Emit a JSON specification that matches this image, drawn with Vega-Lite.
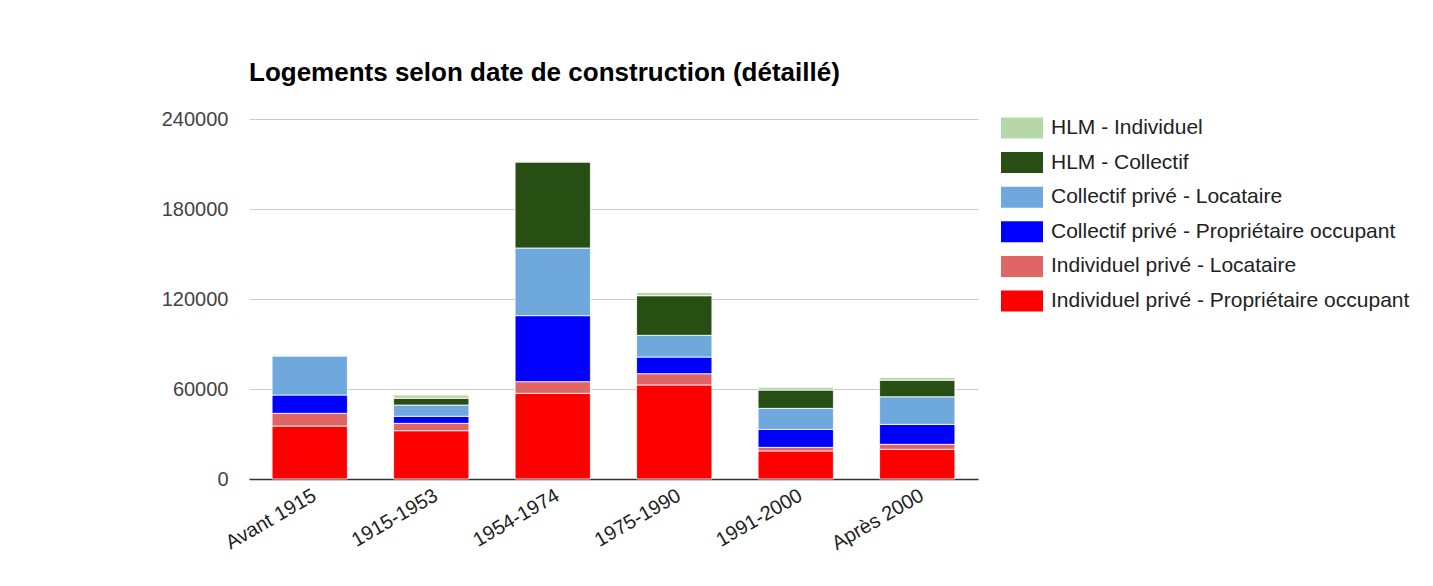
{
  "$schema": "https://vega.github.io/schema/vega-lite/v6.json",
  "width": 729,
  "height": 360,
  "padding": {"left": 161, "top": 60, "right": 0, "bottom": 0},
  "background": "#ffffff",
  "title": {
    "text": "Logements selon date de construction (détaillé)",
    "anchor": "start",
    "frame": "group",
    "font": "Liberation Sans",
    "fontSize": 26,
    "fontWeight": "bold",
    "color": "#000000",
    "offset": 21
  },
  "data": {
    "values": [
      {"periode": "Avant 1915", "type": "Individuel privé - Propriétaire occupant", "rang": 1, "valeur": 35300},
      {"periode": "Avant 1915", "type": "Individuel privé - Locataire", "rang": 2, "valeur": 8500},
      {"periode": "Avant 1915", "type": "Collectif privé - Propriétaire occupant", "rang": 3, "valeur": 12200},
      {"periode": "Avant 1915", "type": "Collectif privé - Locataire", "rang": 4, "valeur": 26000},
      {"periode": "Avant 1915", "type": "HLM - Collectif", "rang": 5, "valeur": 300},
      {"periode": "Avant 1915", "type": "HLM - Individuel", "rang": 6, "valeur": 500},
      {"periode": "1915-1953", "type": "Individuel privé - Propriétaire occupant", "rang": 1, "valeur": 32200},
      {"periode": "1915-1953", "type": "Individuel privé - Locataire", "rang": 2, "valeur": 4900},
      {"periode": "1915-1953", "type": "Collectif privé - Propriétaire occupant", "rang": 3, "valeur": 4700},
      {"periode": "1915-1953", "type": "Collectif privé - Locataire", "rang": 4, "valeur": 7500},
      {"periode": "1915-1953", "type": "HLM - Collectif", "rang": 5, "valeur": 4500},
      {"periode": "1915-1953", "type": "HLM - Individuel", "rang": 6, "valeur": 2200},
      {"periode": "1954-1974", "type": "Individuel privé - Propriétaire occupant", "rang": 1, "valeur": 57100},
      {"periode": "1954-1974", "type": "Individuel privé - Locataire", "rang": 2, "valeur": 7800},
      {"periode": "1954-1974", "type": "Collectif privé - Propriétaire occupant", "rang": 3, "valeur": 44000},
      {"periode": "1954-1974", "type": "Collectif privé - Locataire", "rang": 4, "valeur": 45100},
      {"periode": "1954-1974", "type": "HLM - Collectif", "rang": 5, "valeur": 57300},
      {"periode": "1954-1974", "type": "HLM - Individuel", "rang": 6, "valeur": 300},
      {"periode": "1975-1990", "type": "Individuel privé - Propriétaire occupant", "rang": 1, "valeur": 62700},
      {"periode": "1975-1990", "type": "Individuel privé - Locataire", "rang": 2, "valeur": 7500},
      {"periode": "1975-1990", "type": "Collectif privé - Propriétaire occupant", "rang": 3, "valeur": 11100},
      {"periode": "1975-1990", "type": "Collectif privé - Locataire", "rang": 4, "valeur": 14500},
      {"periode": "1975-1990", "type": "HLM - Collectif", "rang": 5, "valeur": 26400},
      {"periode": "1975-1990", "type": "HLM - Individuel", "rang": 6, "valeur": 2200},
      {"periode": "1991-2000", "type": "Individuel privé - Propriétaire occupant", "rang": 1, "valeur": 18700},
      {"periode": "1991-2000", "type": "Individuel privé - Locataire", "rang": 2, "valeur": 2400},
      {"periode": "1991-2000", "type": "Collectif privé - Propriétaire occupant", "rang": 3, "valeur": 12000},
      {"periode": "1991-2000", "type": "Collectif privé - Locataire", "rang": 4, "valeur": 14000},
      {"periode": "1991-2000", "type": "HLM - Collectif", "rang": 5, "valeur": 12200},
      {"periode": "1991-2000", "type": "HLM - Individuel", "rang": 6, "valeur": 1800},
      {"periode": "Après 2000", "type": "Individuel privé - Propriétaire occupant", "rang": 1, "valeur": 19800},
      {"periode": "Après 2000", "type": "Individuel privé - Locataire", "rang": 2, "valeur": 3300},
      {"periode": "Après 2000", "type": "Collectif privé - Propriétaire occupant", "rang": 3, "valeur": 13300},
      {"periode": "Après 2000", "type": "Collectif privé - Locataire", "rang": 4, "valeur": 18400},
      {"periode": "Après 2000", "type": "HLM - Collectif", "rang": 5, "valeur": 11100},
      {"periode": "Après 2000", "type": "HLM - Individuel", "rang": 6, "valeur": 1800}
    ]
  },
  "mark": {"type": "bar", "stroke": "#ffffff", "strokeWidth": 1, "strokeOpacity": 0.8},
  "encoding": {
    "x": {
      "field": "periode",
      "type": "nominal",
      "sort": ["Avant 1915", "1915-1953", "1954-1974", "1975-1990", "1991-2000", "Après 2000"],
      "scale": {"paddingInner": 0.38, "paddingOuter": 0.19},
      "axis": {
        "title": null,
        "labelAngle": -30,
        "labelAlign": "right",
        "labelBaseline": "top",
        "labelFont": "Liberation Sans",
        "labelFontSize": 20,
        "labelColor": "#222222",
        "labelPadding": 6,
        "ticks": false,
        "domainColor": "#333333",
        "domainWidth": 1.5
      }
    },
    "y": {
      "field": "valeur",
      "type": "quantitative",
      "stack": "zero",
      "scale": {"domain": [0, 240000], "nice": false},
      "axis": {
        "title": null,
        "values": [0, 60000, 120000, 180000, 240000],
        "format": "d",
        "labelFont": "Liberation Sans",
        "labelFontSize": 20,
        "labelColor": "#444444",
        "labelPadding": 21,
        "ticks": false,
        "domain": false,
        "gridColor": "#cccccc",
        "gridWidth": 1
      }
    },
    "color": {
      "field": "type",
      "type": "nominal",
      "scale": {
        "domain": ["HLM - Individuel", "HLM - Collectif", "Collectif privé - Locataire", "Collectif privé - Propriétaire occupant", "Individuel privé - Locataire", "Individuel privé - Propriétaire occupant"],
        "range": ["#b6d7a8", "#274e13", "#6fa8dc", "#0000ff", "#e06666", "#ff0000"]
      },
      "legend": {
        "title": null,
        "orient": "none",
        "legendX": 752,
        "legendY": -12,
        "symbolType": "M-1,-0.5H1V0.5H-1Z",
        "symbolSize": 1764,
        "symbolStrokeWidth": 0,
        "symbolOpacity": 1,
        "labelFont": "Liberation Sans",
        "labelFontSize": 21,
        "labelColor": "#222222",
        "labelOffset": 8,
        "rowPadding": 2.6,
        "labelLimit": 500
      }
    },
    "order": {"field": "rang", "type": "quantitative", "sort": "ascending"}
  },
  "config": {
    "view": {"stroke": null}
  }
}
